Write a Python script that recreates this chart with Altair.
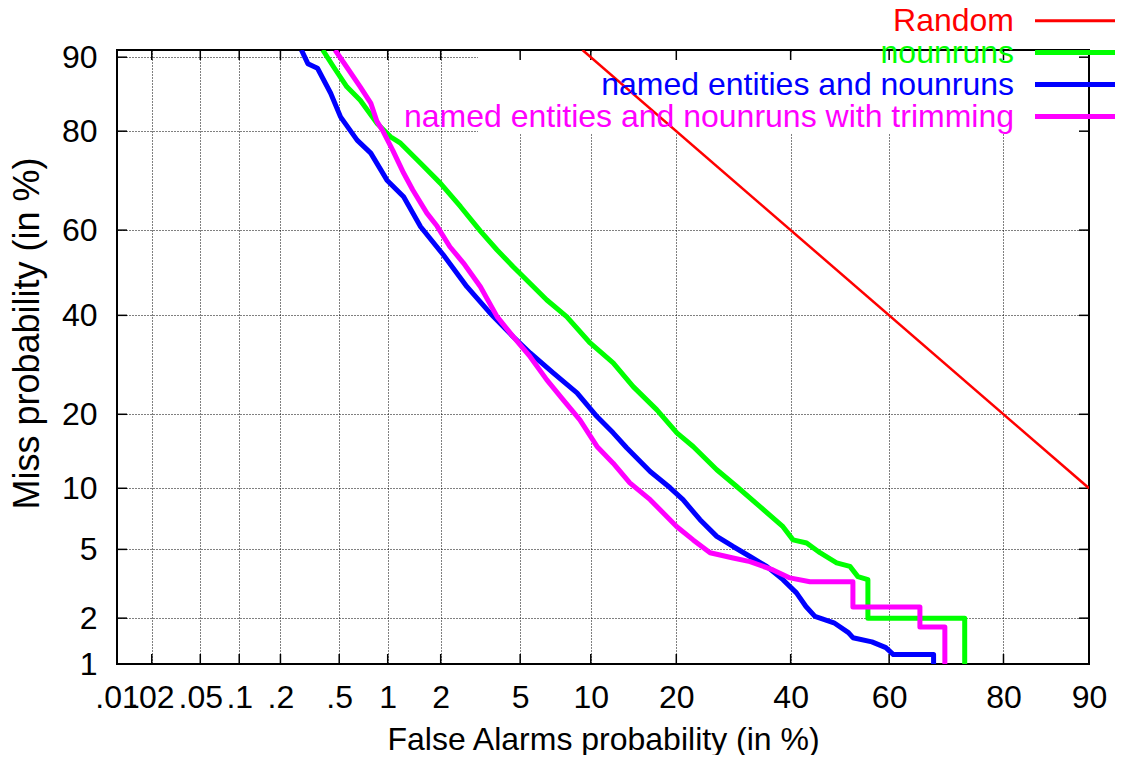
import altair as alt
import pandas as pd
from statistics import NormalDist

ND = NormalDist()


def probit(pct):
    return ND.inv_cdf(pct / 100.0)


# ---------------- data (percent) ----------------
x_ticks = [0.01, 0.02, 0.05, 0.1, 0.2, 0.5, 1, 2, 5, 10, 20, 40, 60, 80, 90]
x_tick_labels = [".01", ".02", ".05", ".1", ".2", ".5", "1", "2", "5", "10", "20", "40", "60", "80", "90"]
y_ticks = [1, 2, 5, 10, 20, 40, 60, 80, 90]
y_tick_labels = ["1", "2", "5", "10", "20", "40", "60", "80", "90"]

x_range = [0.01, 90]
y_range = [1, 90.73]

series_names = ["Random", "nounruns", "named entities and nounruns",
                "named entities and nounruns with trimming"]
series_colors = ["#ff0000", "#00ff00", "#0000ff", "#ff00ff"]

random_fa = [9.27, 90]
random_miss = [90.73, 10]

nounruns_fa = [0.39, 0.46, 0.56, 0.68, 0.86, 1.04, 1.19, 1.55, 1.99, 2.55, 3.22, 3.89,
               4.64, 5.17, 6.58, 7.99, 9.94, 12.17, 14.38, 17.32, 20.08, 22.51, 26.32,
               29.78, 34.05, 38.48, 40.47, 43.21, 45.91, 49.33, 52.06, 53.69, 55.73,
               55.73, 73.96, 73.96]
nounruns_miss = [90.73, 88.94, 86.55, 84.75, 81.31, 79.05, 77.94, 74.26, 70.29, 65.26,
                 59.78, 55.37, 51.43, 49.06, 43.56, 39.70, 33.81, 29.59, 24.92, 20.74,
                 17.06, 15.08, 12.07, 10.19, 8.22, 6.55, 5.61, 5.40, 4.80, 4.23, 4.04,
                 3.54, 3.40, 2.0, 2.0, 1.0]

ne_fa = [0.28, 0.31, 0.36, 0.44, 0.51, 0.65, 0.79, 0.99, 1.24, 1.55, 2.07, 2.75, 3.59,
         4.64, 5.55, 7.01, 8.81, 10.57, 12.17, 13.63, 16.45, 19.12, 20.98, 23.59, 26.32,
         29.13, 32.19, 35.32, 38.48, 41.16, 43.07, 44.89, 48.78, 51.75, 52.67, 56.54,
         59.35, 60.84, 68.51, 68.51]
ne_miss = [90.73, 89.31, 88.80, 85.71, 82.29, 78.48, 76.15, 70.90, 67.41, 60.77, 54.19,
           46.69, 40.55, 35.19, 31.67, 27.56, 23.74, 19.63, 17.06, 14.90, 11.86, 10.05,
           8.86, 7.10, 5.85, 5.18, 4.58, 4.04, 3.40, 2.85, 2.36, 2.05, 1.87, 1.62, 1.50,
           1.41, 1.29, 1.16, 1.16, 1.0]

trim_fa = [0.47, 0.56, 0.68, 0.79, 0.86, 0.94, 1.07, 1.24, 1.40, 1.68, 1.91, 2.24, 2.64,
           3.22, 3.89, 4.64, 5.55, 6.58, 7.73, 9.05, 10.57, 12.17, 13.99, 16.45, 20.08,
           22.51, 25.21, 29.13, 32.19, 36.54, 39.86, 43.87, 52.67, 52.67, 65.97, 65.97,
           70.54, 70.54]
trim_miss = [90.73, 88.91, 86.55, 84.34, 81.64, 79.94, 76.69, 72.33, 68.87, 63.85, 60.93,
             56.14, 52.30, 46.69, 39.70, 35.19, 30.88, 26.20, 22.49, 19.08, 15.08, 12.88,
             10.58, 8.86, 6.55, 5.61, 4.80, 4.49, 4.29, 3.86, 3.48, 3.31, 3.31, 2.34, 2.34,
             1.76, 1.76, 1.0]

all_fa = [random_fa, nounruns_fa, ne_fa, trim_fa]
all_miss = [random_miss, nounruns_miss, ne_miss, trim_miss]

# ---------------- helpers ----------------
FONT = "Liberation Sans"
FS = 32
YTFS = 36
LFS = 32
W, H = 972, 614


def series_df(fa, miss, name):
    return pd.DataFrame({
        "series": name,
        "idx": list(range(len(fa))),
        "zx": [probit(v) for v in fa],
        "zy": [probit(v) for v in miss],
    })


def label_expr(ticks, labels):
    zs = [probit(t) for t in ticks]
    expr = "'" + labels[-1] + "'"
    for i in range(len(ticks) - 2, -1, -1):
        mid = (zs[i] + zs[i + 1]) / 2
        expr = "datum.value < %.5f ? '%s' : (%s)" % (mid, labels[i], expr)
    return expr


xs = alt.Scale(domain=[probit(x_range[0]), probit(x_range[1])], nice=False, zero=False)
ys = alt.Scale(domain=[probit(y_range[0]), probit(y_range[1])], nice=False, zero=False)

x_axis = alt.Axis(
    values=[probit(t) for t in x_ticks], labelExpr=label_expr(x_ticks, x_tick_labels),
    grid=True, gridColor="black", gridDash=[1, 2], gridWidth=1,
    ticks=False, tickSize=0, domain=False,
    labelFont=FONT, labelFontSize=FS, labelColor="black", labelPadding=18,
    labelOverlap=False, labelFlush=False,
    title="False Alarms probability (in %)", titleFont=FONT, titleFontSize=FS,
    titleFontWeight="normal", titleColor="black", titleX=W / 2, titleY=85,
    titleAlign="center", titleBaseline="alphabetic",
)
y_axis = alt.Axis(
    values=[probit(t) for t in y_ticks], labelExpr=label_expr(y_ticks, y_tick_labels),
    grid=True, gridColor="black", gridDash=[1, 2], gridWidth=1,
    ticks=False, tickSize=0, domain=False,
    labelFont=FONT, labelFontSize=FS, labelColor="black", labelPadding=20,
    labelOverlap=False, labelFlush=False, labelBaseline="middle",
    title="Miss probability (in %)", titleFont=FONT, titleFontSize=YTFS,
    titleFontWeight="normal", titleColor="black", titleX=-90, titleY=283,
    titleAlign="center", titleBaseline="middle", titleAngle=270,
)


def X(field):
    return alt.X(field, type="quantitative", scale=xs, axis=x_axis)


def Y(field):
    return alt.Y(field, type="quantitative", scale=ys, axis=y_axis)


dfs = [series_df(f, m, n) for f, m, n in zip(all_fa, all_miss, series_names)]

# axis carrier (invisible)
axis_layer = alt.Chart(dfs[0]).mark_line(strokeOpacity=0).encode(
    x=X("zx"), y=Y("zy"), order="idx:Q"
)

# blank area behind the key (grid not drawn there)
key_blank = alt.Chart(pd.DataFrame({"k": [0]})).mark_rect(color="white").encode(
    x=alt.value(361), x2=alt.value(970), y=alt.value(2), y2=alt.value(83)
)

xt_df = pd.DataFrame({"zx": [probit(t) for t in x_ticks]})
yt_df = pd.DataFrame({"zy": [probit(t) for t in y_ticks]})
TL = 10
tick_layers = [
    alt.Chart(xt_df).mark_rule(color="black", strokeWidth=1.5).encode(
        x=X("zx"), y=alt.value(H), y2=alt.value(H - TL)),
    alt.Chart(xt_df).mark_rule(color="black", strokeWidth=1.5).encode(
        x=X("zx"), y=alt.value(0), y2=alt.value(TL)),
    alt.Chart(yt_df).mark_rule(color="black", strokeWidth=1.5).encode(
        y=Y("zy"), x=alt.value(0), x2=alt.value(TL)),
    alt.Chart(yt_df).mark_rule(color="black", strokeWidth=1.5).encode(
        y=Y("zy"), x=alt.value(W), x2=alt.value(W - TL)),
]

line_layers = []
for i, (d, c) in enumerate(zip(dfs, series_colors)):
    sw = 2.5 if i == 0 else 5
    line_layers.append(
        alt.Chart(d).mark_line(color=c, strokeWidth=sw, clip=True, strokeJoin="round").encode(
            x=X("zx"), y=Y("zy"), order="idx:Q"
        )
    )

legend_layers = []
for i, (n, c) in enumerate(zip(series_names, series_colors)):
    ly = -29.3 + 31.9 * i
    sw = 3 if i == 0 else 5
    legend_layers.append(
        alt.Chart(pd.DataFrame({"label": [n]})).mark_text(
            align="right", baseline="alphabetic", font=FONT, fontSize=LFS, color=c
        ).encode(text="label:N", x=alt.value(897), y=alt.value(ly + 10.5))
    )
    legend_layers.append(
        alt.Chart(pd.DataFrame({"label": [n]})).mark_rule(color=c, strokeWidth=sw).encode(
            x=alt.value(918), x2=alt.value(1010), y=alt.value(ly)
        )
    )

chart = alt.layer(
    axis_layer, key_blank, *tick_layers, *line_layers, *legend_layers
).properties(
    width=W, height=H,
    autosize=alt.AutoSizeParams(type="none"),
    padding={"left": 109, "top": 42, "right": 26, "bottom": 91},
    background="white",
).configure_view(stroke="black", strokeWidth=2)

chart.save("out.html", embed_options={"renderer": "svg", "actions": False})
